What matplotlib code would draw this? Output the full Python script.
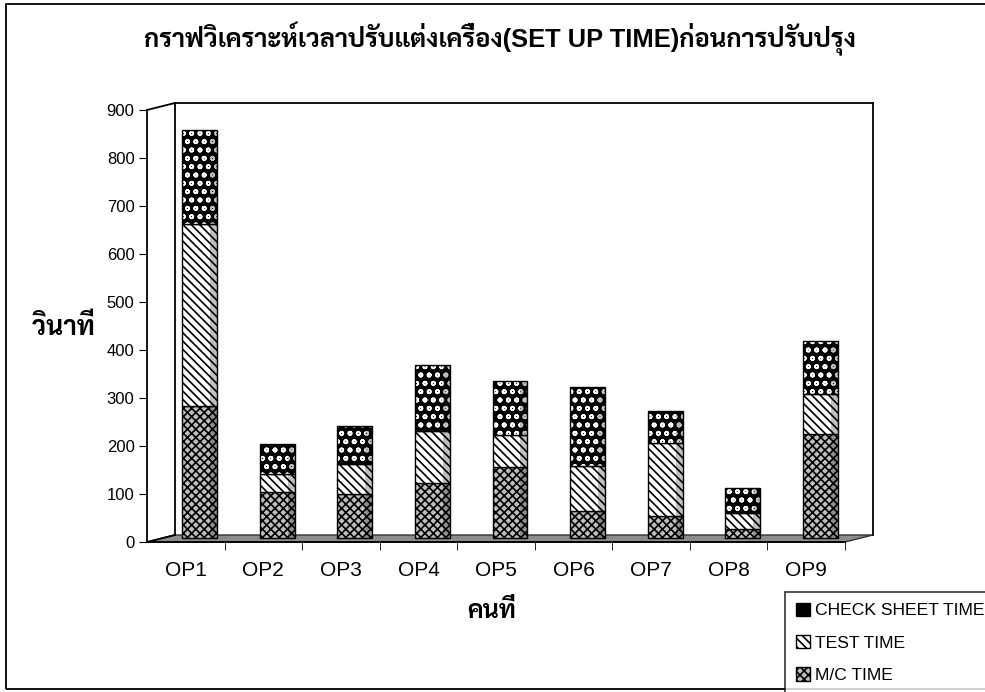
import matplotlib
matplotlib.use('Agg')
import matplotlib.pyplot as plt
from matplotlib.patches import Patch, Rectangle, Polygon
import numpy as np

plt.rcParams['font.family'] = ['Liberation Sans', 'Sarabun']
plt.rcParams['hatch.linewidth'] = 1.2

operators = ['OP1', 'OP2', 'OP3', 'OP4', 'OP5', 'OP6', 'OP7', 'OP8', 'OP9']
mc_time = [275, 96, 92, 115, 148, 58, 46, 19, 217]
test_time = [381, 39, 64, 108, 67, 92, 152, 35, 85]
check_time = [196, 61, 79, 139, 114, 165, 67, 52, 110]
yticks = [0, 100, 200, 300, 400, 500, 600, 700, 800, 900]

title = 'กราฟวิเคราะห์เวลาปรับแต่งเครื่อง(SET UP TIME)ก่อนการปรับปรุง'

# fake 3d depth (category units / seconds)
dx, dy = 0.36, 14.6

fig = plt.figure(figsize=(9.85, 6.92), dpi=100)
ax = fig.add_axes([147/985, 150/692, 698/985, 432/692])
n = len(operators)
x = np.arange(n)

ax.set_xlim(-0.5, n - 0.5)
ax.set_ylim(0, 900)

# walls and floor
floor = Polygon([(-0.5, 0), (n - 0.5, 0), (n - 0.5 + dx, dy), (-0.5 + dx, dy)],
                closed=True, facecolor='#8c8c8c', edgecolor='#333333', lw=1, clip_on=False, zorder=1)
ax.add_patch(floor)
kw = dict(color='black', lw=1.3, clip_on=False, zorder=1)
ax.plot([-0.5 + dx, -0.5 + dx], [dy, 900 + dy], **kw)
ax.plot([-0.5 + dx, n - 0.5 + dx], [900 + dy, 900 + dy], **kw)
ax.plot([n - 0.5 + dx, n - 0.5 + dx], [dy, 900 + dy], **kw)
ax.plot([-0.5, -0.5 + dx], [900, 900 + dy], **kw)
ax.plot([-0.5, -0.5 + dx], [0, dy], **kw)

# stacked bars
bx = x + dx / 2
w = 0.45
b0 = np.full(n, dy / 2)
b1 = b0 + np.array(mc_time)
b2 = b1 + np.array(test_time)
ax.bar(bx, mc_time, w, bottom=b0, facecolor='#bdbdbd', edgecolor='black', hatch='xxxx', lw=1, zorder=3)
ax.bar(bx, test_time, w, bottom=b1, facecolor='white', edgecolor='black', hatch='\\\\\\\\', lw=1, zorder=3)
ax.bar(bx, check_time, w, bottom=b2, facecolor='black', edgecolor='white', hatch='oo', lw=0, zorder=3)
ax.bar(bx, check_time, w, bottom=b2, fill=False, edgecolor='black', lw=1, zorder=4)
# cylinder shading on the right side
ax.bar(bx + w * 0.4, b2 + np.array(check_time) - b0, w * 0.2, bottom=b0,
       color='black', alpha=0.25, lw=0, zorder=4)

for s in ['top', 'right']:
    ax.spines[s].set_visible(False)
ax.spines['left'].set_linewidth(1.3)
ax.spines['bottom'].set_linewidth(1.3)
ax.patch.set_visible(False)

ax.set_yticks(yticks)
ax.tick_params(axis='y', direction='out', length=6, labelsize=12, pad=3)
ax.set_xticks(x)
ax.set_xticklabels(operators)
ax.set_xticks(np.arange(n) + 0.5, minor=True)
ax.tick_params(axis='x', which='major', length=0, labelsize=15, pad=14)
ax.tick_params(axis='x', which='minor', direction='out', length=6)

fig.text(0.508, 0.944, title, ha='center', va='center', fontsize=18.4, fontweight='bold')
fig.text(0.065, 0.528, 'วินาที', ha='center', va='center', fontsize=19, fontweight='bold')
fig.text(0.499, 0.117, 'คนที่', ha='center', va='center', fontsize=18, fontweight='bold')

# outer frame (right side runs off the page)
fig.add_artist(Rectangle((6/985, 3/692), 990/985, 685/692, transform=fig.transFigure,
                         fill=False, edgecolor='black', lw=1.3))

handles = [
    Patch(facecolor='black', edgecolor='black', hatch='oo', label='CHECK SHEET TIME'),
    Patch(facecolor='white', edgecolor='black', hatch='\\\\\\\\', label='TEST TIME'),
    Patch(facecolor='#bdbdbd', edgecolor='black', hatch='xxxx', label='M/C TIME'),
]
leg = fig.legend(handles=handles, loc='upper left', bbox_to_anchor=(785/985, 0.0, 0.25, 1 - 592/692),
                 mode='expand', fontsize=12.6, frameon=True, fancybox=False, edgecolor='black',
                 handlelength=0.8, handleheight=0.8, handletextpad=0.3,
                 labelspacing=0.95, borderpad=0.6, borderaxespad=0)
leg.get_frame().set_linewidth(1.2)

fig.savefig('out.png')
